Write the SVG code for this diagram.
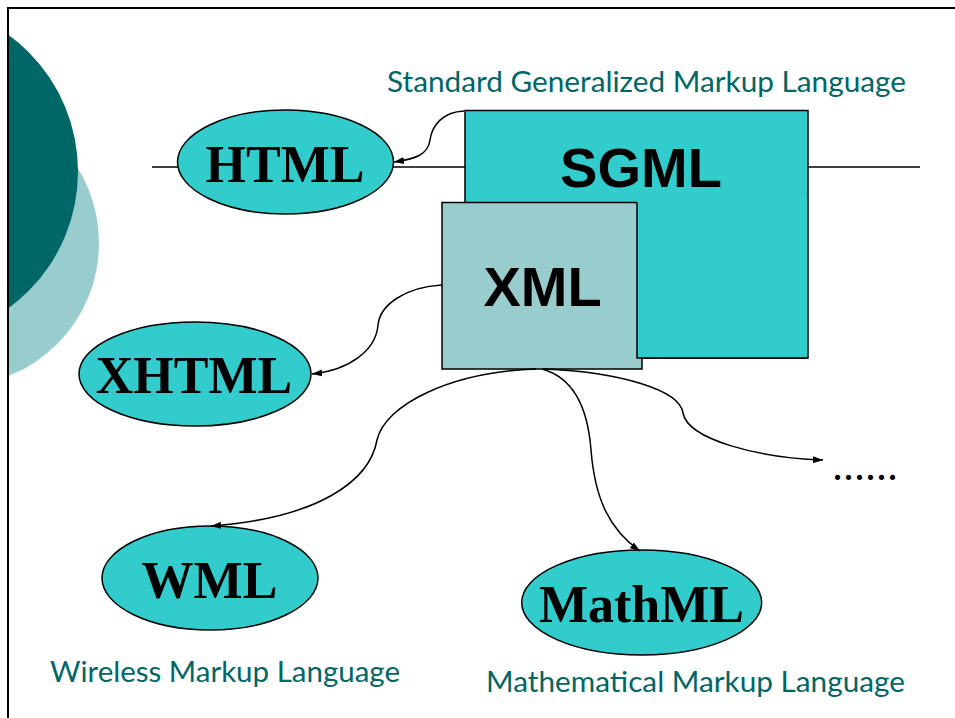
<svg xmlns="http://www.w3.org/2000/svg" width="955" height="718" viewBox="0 0 955 718">
<style>
.node{fill:#33CCCC;stroke:#000;stroke-width:1.5}
.lbl{font-family:"Liberation Serif","Times New Roman",serif;font-weight:bold;font-size:52px;fill:#000;text-anchor:middle}
.blbl{font-family:"Liberation Sans",Arial,sans-serif;font-weight:bold;font-size:56px;fill:#000;text-anchor:middle}
.cap{font-family:Lato,"Noto Sans",sans-serif;font-size:28px;fill:#006666}
.conn{fill:none;stroke:#000;stroke-width:1.5}
</style>
<defs>
<marker id="ah" markerUnits="userSpaceOnUse" markerWidth="11" markerHeight="8" refX="10" refY="3.5" orient="auto">
<path d="M0,0 L10,3.5 L0,7 z" fill="#000"/>
</marker>
<clipPath id="clipL"><rect x="8" y="8" width="947" height="710"/></clipPath>
</defs>
<rect width="955" height="718" fill="#fff"/>
<g id="decor" clip-path="url(#clipL)">
<circle cx="-44" cy="243" r="143" fill="#99CCCC"/>
<circle cx="-91" cy="171.5" r="169" fill="#006666"/>
</g>
<path d="M8,718 V8 H955" fill="none" stroke="#000" stroke-width="2"/>
<line x1="152" y1="167" x2="920" y2="167" stroke="#000" stroke-width="1.5"/>
<g id="sgml">
<rect x="465" y="110.5" width="343" height="247.5" class="node"/>
<text x="641" y="187" class="blbl">SGML</text>
</g>
<g id="xml">
<rect x="442" y="202.5" width="200" height="166.5" fill="#99CCCC" stroke="#000" stroke-width="1.5"/>
<rect x="637" y="195" width="170.2" height="162.6" fill="#33CCCC"/>
<path d="M637,202.5 V358 H807.5" fill="none" stroke="#000" stroke-width="1.5"/>
<text x="542.5" y="306" class="blbl">XML</text>
</g>
<g id="html">
<ellipse cx="285.5" cy="162" rx="108" ry="52" class="node"/>
<text x="285" y="181.5" class="lbl">HTML</text>
</g>
<g id="xhtml">
<ellipse cx="195" cy="374" rx="116" ry="52" class="node"/>
<text x="194" y="392.5" class="lbl">XHTML</text>
</g>
<g id="wml">
<ellipse cx="210" cy="578" rx="108" ry="52" class="node"/>
<text x="209.5" y="598" class="lbl">WML</text>
</g>
<g id="mathml">
<ellipse cx="641.7" cy="602.5" rx="120" ry="52.5" class="node"/>
<text x="641.5" y="621.7" class="lbl">MathML</text>
</g>
<g id="connectors">
<path class="conn" marker-end="url(#ah)" d="M464,111 C442,112 432,126 430,140 C428,155 415,159 394,162"/>
<path class="conn" marker-end="url(#ah)" d="M442,285 C405,287 380,305 378,325 C376,350 350,370 312,374"/>
<path class="conn" marker-end="url(#ah)" d="M536,369 C450,372 385,405 377,440 C370,480 320,518 211,526"/>
<path class="conn" marker-end="url(#ah)" d="M542,369 C575,378 588,410 591,450 C595,500 610,530 640,551"/>
<path class="conn" marker-end="url(#ah)" d="M544,369 C620,372 680,390 683,413 C688,440 760,458 823,460"/>
</g>
<text x="832" y="480" font-family="Liberation Serif,serif" font-size="44" fill="#000">......</text>
<text x="387" y="92" class="cap" textLength="519" lengthAdjust="spacingAndGlyphs">Standard Generalized Markup Language</text>
<text x="50" y="682" class="cap" textLength="350" lengthAdjust="spacingAndGlyphs">Wireless Markup Language</text>
<text x="486" y="692" class="cap" textLength="419" lengthAdjust="spacingAndGlyphs">Mathematical Markup Language</text>
</svg>
